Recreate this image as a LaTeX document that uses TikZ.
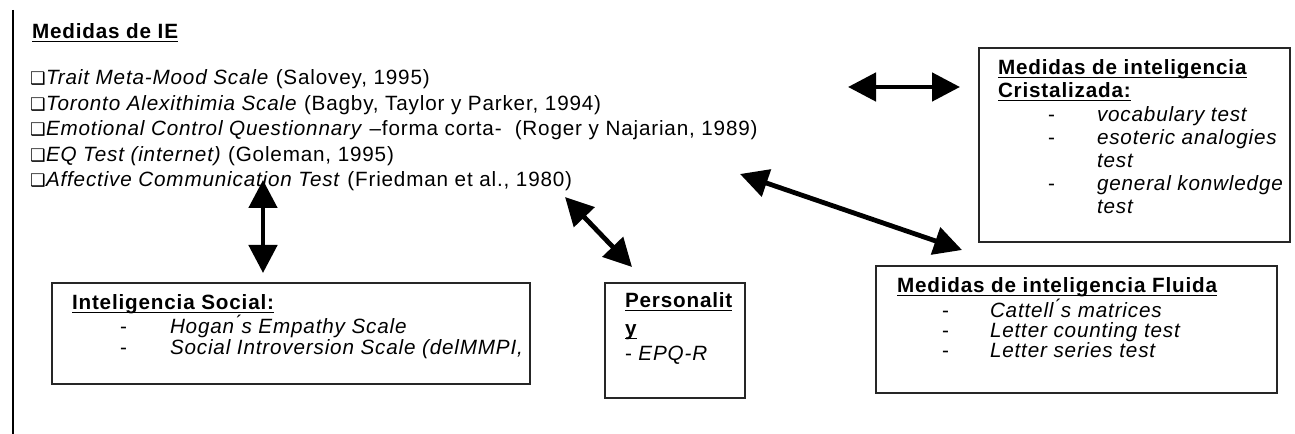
\documentclass[tikz,border=0pt]{standalone}
\usepackage{fontspec}
\setmainfont{Liberation Sans}[LetterSpace=4]
\newfontfamily\symfont{DejaVu Sans}
\usetikzlibrary{arrows.meta}
\newcommand\ulx[1]{\setbox0\hbox{#1}\rlap{\rule[-2.4pt]{\wd0}{1.2pt}}\box0}
\begin{document}
\begin{tikzpicture}[x=0.75pt,y=-0.75pt,
  every node/.style={inner sep=0pt,outer sep=0pt,font=\fontsize{15.5}{18}\selectfont},
  txt/.style={anchor=base west},
  boxframe/.style={draw=black!85,line width=1.4pt,anchor=north west,minimum width=#1},
  dbl/.style={line width=3.6pt,{Triangle[length=21pt,width=21pt]}-{Triangle[length=21pt,width=21pt]}},
  chk/.style={anchor=base west,font=\fontsize{13}{15}\symfont}
]
\useasboundingbox (0,0) rectangle (1295,434);
% left rule
\draw[line width=1.5pt] (13,10) -- (13,434);
% Medidas de IE
\node[txt] (ie) at (32,39) {\textbf{\ulx{Medidas de IE}}};
\foreach \y/\n in {85/1,110.5/2,136/3,161.5/4,187/5}{
  \node[chk] (c\n) at (30,\y) {❑};
}
\node[txt] (l1) at (46,85) {\textit{Trait Meta-Mood Scale} (Salovey, 1995)};
\node[txt] (l2) at (46,110.5) {\textit{Toronto Alexithimia Scale} (Bagby, Taylor y Parker, 1994)};
\node[txt] (l3) at (46,136) {\textit{Emotional Control Questionnary} --forma corta-\ \ (Roger y Najarian, 1989)};
\node[txt] (l4) at (46,161.5) {\textit{EQ Test (internet)} (Goleman, 1995)};
\node[txt] (l5) at (46,187) {\textit{Affective Communication Test} (Friedman et al., 1980)};

% Cristalizada box
\node[boxframe=311*0.75pt,minimum height=194*0.75pt] (cris) at (979,48) {};
\node[txt] (cr1) at (998,75) {\textbf{\ulx{Medidas de inteligencia}}};
\node[txt] (cr2) at (998,98) {\textbf{\ulx{Cristalizada:}}};
\node[txt] (cr3d) at (1048,122) {-};
\node[txt] (cr3) at (1097,122) {\textit{vocabulary test}};
\node[txt] (cr4d) at (1048,145) {-};
\node[txt] (cr4) at (1097,145) {\textit{esoteric analogies}};
\node[txt] (cr5) at (1097,168) {\textit{test}};
\node[txt] (cr6d) at (1048,191) {-};
\node[txt] (cr6) at (1097,191) {\textit{general konwledge}};
\node[txt] (cr7) at (1097,214) {\textit{test}};

% Fluida box
\node[boxframe=401*0.75pt,minimum height=127*0.75pt] (flu) at (876,266) {};
\node[txt] (fl1) at (897,293) {\textbf{\ulx{Medidas de inteligencia Fluida}}};
\node[txt] (fl2d) at (942,318) {-};
\node[txt] (fl2) at (990,318) {\textit{Cattell\'{}s matrices}};
\node[txt] (fl3d) at (942,338) {-};
\node[txt] (fl3) at (990,338) {\textit{Letter counting test}};
\node[txt] (fl4d) at (942,358) {-};
\node[txt] (fl4) at (990,358) {\textit{Letter series test}};

% Social box
\node[boxframe=478*0.75pt,minimum height=101*0.75pt] (soc) at (52,283) {};
\node[txt] (so1) at (72,310) {\textbf{\ulx{Inteligencia Social:}}};
\node[txt] (so2d) at (120,334) {-};
\node[txt] (so2) at (170,334) {\textit{Hogan\'{}s Empathy Scale}};
\node[txt] (so3d) at (120,354) {-};
\node[txt] (so3) at (170,354) {\textit{Social Introversion Scale (delMMPI,}};

% Personality box
\node[boxframe=140*0.75pt,minimum height=115*0.75pt] (per) at (605,283) {};
\node[txt] (pe1) at (625,308) {\textbf{\ulx{Personalit}}};
\node[txt] (pe2) at (625,336) {\textbf{\ulx{y}}};
\node[txt] (pe3) at (625,361) {- \textit{EPQ-R}};

% arrows
\coordinate (a1s) at (848,87); \coordinate (a1e) at (960,87);
\coordinate (a2s) at (263,180); \coordinate (a2e) at (263,273);
\coordinate (a3s) at (565,197); \coordinate (a3e) at (632,267);
\coordinate (a4s) at (740,174); \coordinate (a4e) at (962,250);
\draw[dbl] (a1s) -- (a1e);
\draw[dbl] (a2s) -- (a2e);
\draw[dbl] (a3s) -- (a3e);
\draw[dbl] (a4s) -- (a4e);
\end{tikzpicture}
\end{document}
